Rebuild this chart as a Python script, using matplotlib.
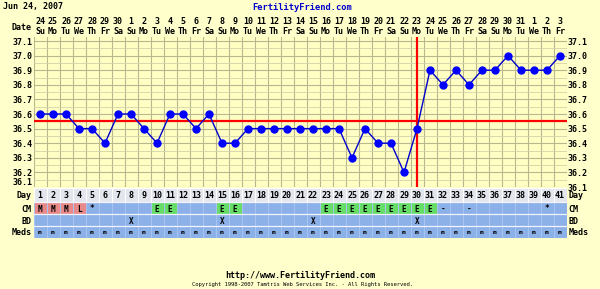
import matplotlib
matplotlib.use("Agg")
import matplotlib.pyplot as plt
import matplotlib.transforms as mtrans
import numpy as np
import datetime

# chart data
start = datetime.date(2007, 6, 24)
n_days = 41
temps = [36.6, 36.6, 36.6, 36.5, 36.5, 36.4, 36.6, 36.6, 36.5, 36.4,
         36.6, 36.6, 36.5, 36.6, 36.4, 36.4, 36.5, 36.5, 36.5, 36.5,
         36.5, 36.5, 36.5, 36.5, 36.3, 36.5, 36.4, 36.4, 36.2, 36.5,
         36.9, 36.8, 36.9, 36.8, 36.9, 36.9, 37.0, 36.9, 36.9, 36.9, 37.0]
cm = ['M', 'M', 'M', 'L', '*', '', '', '', '', 'E', 'E', '', '', '', 'E', 'E',
      '', '', '', '', '', '', 'E', 'E', 'E', 'E', 'E', 'E', 'E', 'E', 'E',
      '-', '', '-', '', '', '', '', '', '*', '']
bd_days = [8, 15, 22, 30]
meds = ['m'] * n_days
coverline = 36.55
ovulation_day = 30
temp_ticks = [36.1, 36.2, 36.3, 36.4, 36.5, 36.6, 36.7, 36.8, 36.9, 37.0, 37.1]
row_names = ['Day', 'CM', 'BD', 'Meds']

days = np.arange(1, n_days + 1)
dates = [start + datetime.timedelta(days=i) for i in range(n_days)]
dow = ['Mo', 'Tu', 'We', 'Th', 'Fr', 'Sa', 'Su']

W, H = 600, 289
BG = '#FFFFCC'
PLOT_BG = '#FFFFC4'
GRID = '#D2D2AA'
BLUE_CELL = '#8CB0E8'
FONT = 'DejaVu Sans Mono'

fig = plt.figure(figsize=(6, 2.89), dpi=100, facecolor=BG)

def fx(px):
    return px / W

def fy(py):
    return 1 - py / H

x0, x1 = 33.5, 566.5
top_px, bot_px = 36.6, 187.0
ax = fig.add_axes([fx(x0), fy(bot_px), fx(x1 - x0), (bot_px - top_px) / H])
ax.set_facecolor(PLOT_BG)
ax.set_xlim(0.5, n_days + 0.5)
ax.set_ylim(36.1, 36.1 + (bot_px - top_px) / 146.0)
ax.set_xticks(np.arange(0.5, n_days + 1, 1))
ax.set_xticklabels([])
ax.set_yticks(temp_ticks)
ax.set_yticks(np.arange(36.15, 37.1, 0.1), minor=True)
ax.set_yticklabels(['%.1f' % t for t in temp_ticks])
ax.tick_params(axis='both', which='both', length=0)
ax.tick_params(axis='y', labelleft=True, labelright=True, labelsize=6, pad=1)
for lab in ax.get_yticklabels():
    lab.set_fontfamily(FONT)
    lab.set_fontweight('bold')
ax.get_yticklabels()[0].set_va('bottom')
ax.grid(True, which='major', color='#B8B890', lw=0.8)
ax.grid(True, which='minor', color=GRID, lw=0.6)
ax.set_axisbelow(True)
for s in ax.spines.values():
    s.set_visible(False)

ax.axhline(coverline, color='#FF0000', lw=1.6, zorder=3)
ax.axvline(ovulation_day, color='#FF0000', lw=1.6, zorder=3)
ax.plot(days, temps, color='#0000CC', lw=1, marker='o', ms=5,
        mfc='#0000FF', mec='#0000FF', zorder=4, clip_on=False)

# date header
tr = mtrans.blended_transform_factory(ax.transData, fig.transFigure)
for d, dt in zip(days, dates):
    ax.text(d, fy(21), str(dt.day), transform=tr, ha='center', va='center',
            fontsize=6, family=FONT, weight='bold')
    ax.text(d, fy(31), dow[dt.weekday()], transform=tr, ha='center', va='center',
            fontsize=6, family=FONT, weight='bold')
fig.text(fx(32), fy(27), 'Date', ha='right', va='center', fontsize=6,
         family=FONT, weight='bold')
fig.text(fx(3), fy(7), dates[0].strftime('%b %d, %Y'), ha='left', va='center',
         fontsize=6, family=FONT, weight='bold')
fig.text(fx(302), fy(7), 'FertilityFriend.com', ha='center', va='center',
         fontsize=6.3, family=FONT, weight='bold', color='#0000CC')

# table rows below the chart (row edges in pixels)
row_edges = [187.5, 202.0, 214.0, 226.0, 237.5]
tax = fig.add_axes([fx(x0), fy(row_edges[-1]), fx(x1 - x0),
                    (row_edges[-1] - row_edges[0]) / H])
tax.set_xlim(0.5, n_days + 0.5)
tax.set_ylim(row_edges[-1], row_edges[0])
tax.axis('off')
cm_colors = []
for c in cm:
    if c in ('M', 'L'):
        cm_colors.append('#E88A8A')
    elif c == 'E':
        cm_colors.append('#66DD66')
    else:
        cm_colors.append(BLUE_CELL)
row_colors = ['#E4E6EE', cm_colors, BLUE_CELL, BLUE_CELL]
row_edgecols = ['#FFFFFF', '#A8C4F0', '#A8C4F0', '#A8C4F0']
for r in range(4):
    tax.bar(days, row_edges[r + 1] - row_edges[r], width=1, bottom=row_edges[r],
            color=row_colors[r], edgecolor=row_edgecols[r], lw=0.7)
for e in row_edges[1:-1]:
    tax.axhline(e, color='#F4F4FF', lw=0.9)
mids = [(row_edges[r] + row_edges[r + 1]) / 2 + 1 for r in range(4)]
for i, d in enumerate(days):
    tax.text(d, mids[0], str(d), ha='center', va='center', fontsize=6,
             family=FONT, weight='bold')
    if cm[i]:
        tax.text(d, mids[1], cm[i], ha='center', va='center', fontsize=5.5,
                 family=FONT, weight='bold')
    if d in bd_days:
        tax.text(d, mids[2], 'X', ha='center', va='center', fontsize=5.5,
                 family=FONT, weight='bold')
    tax.text(d, mids[3] - 0.5, meds[i], ha='center', va='center', fontsize=4.5,
             family=FONT, weight='bold')
for r, name in enumerate(row_names):
    tax.text(0.35, mids[r], name, ha='right', va='center', fontsize=6,
             family=FONT, weight='bold')
    tax.text(n_days + 0.65, mids[r], name, ha='left', va='center', fontsize=6,
             family=FONT, weight='bold')

# footer
fig.text(fx(300), fy(275), 'http://www.FertilityFriend.com', ha='center',
         va='center', fontsize=6, family=FONT, weight='bold')
fig.text(fx(302), fy(284.5),
         'Copyright 1998-2007 Tamtris Web Services Inc. - All Rights Reserved.',
         ha='center', va='center', fontsize=4, family=FONT)

fig.savefig('out.png', dpi=100, facecolor=BG)
